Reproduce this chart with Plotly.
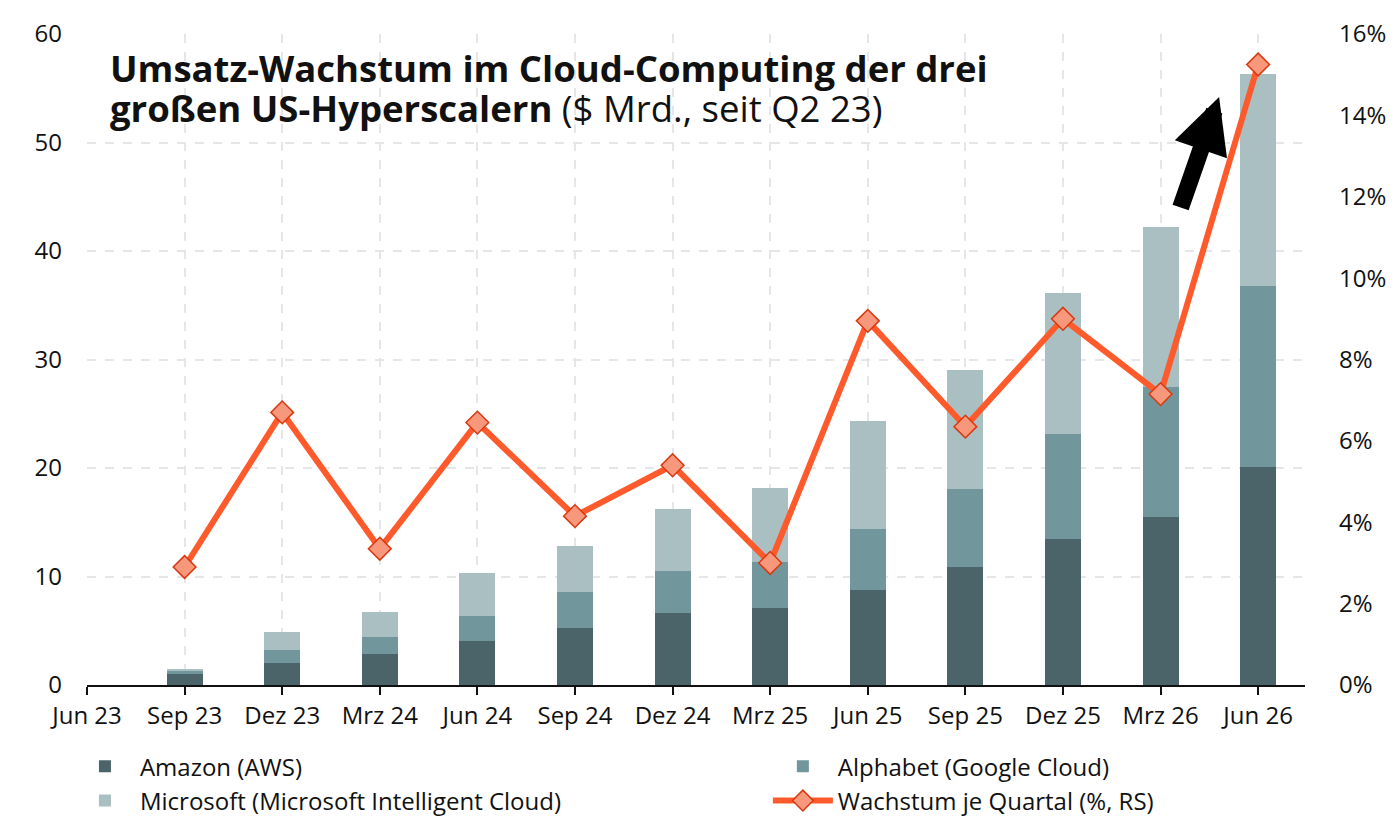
import plotly.graph_objects as go

quarters = ["Jun 23", "Sep 23", "Dez 23", "Mrz 24", "Jun 24", "Sep 24", "Dez 24",
            "Mrz 25", "Jun 25", "Sep 25", "Dez 25", "Mrz 26", "Jun 26"]

# $ Mrd., kumuliert seit Q2 23
amazon = [0, 1.0, 2.0, 2.9, 4.1, 5.3, 6.6, 7.1, 8.8, 10.9, 13.5, 15.5, 20.1]
alphabet = [0, 0.3, 1.2, 1.5, 2.3, 3.3, 3.9, 4.2, 5.6, 7.2, 9.6, 12.0, 16.7]
microsoft = [0, 0.2, 1.7, 2.3, 3.9, 4.2, 5.7, 6.9, 9.9, 10.9, 13.0, 14.7, 19.5]

# Wachstum je Quartal (%), rechte Skala
wachstum = [None, 2.9, 6.7, 3.35, 6.45, 4.15, 5.4, 3.0, 8.95, 6.35, 9.0, 7.15, 15.25]

FONT = "Open Sans"

fig = go.Figure()
fig.add_bar(x=quarters, y=amazon, name="Amazon (AWS)", marker_color="#4b646a",
            marker_line_width=0, width=0.37, legend="legend")
fig.add_bar(x=quarters, y=alphabet, name="Alphabet (Google Cloud)", marker_color="#71979d",
            marker_line_width=0, width=0.37, legend="legend2")
fig.add_bar(x=quarters, y=microsoft, name="Microsoft (Microsoft Intelligent Cloud)",
            marker_color="#a9bfc2", marker_line_width=0, width=0.37, legend="legend")
fig.add_scatter(x=quarters, y=wachstum, name="Wachstum je Quartal (%, RS)", yaxis="y2",
                mode="lines+markers", line=dict(color="#ff5a2b", width=6),
                marker=dict(symbol="diamond", size=17.5, color="#f7977c",
                            line=dict(color="#d9380f", width=1.5)),
                legend="legend2")

leg = dict(orientation="v", yanchor="top", y=-0.091, traceorder="normal",
           font=dict(size=24), itemwidth=60, tracegroupgap=0, bgcolor="rgba(0,0,0,0)")

fig.update_layout(
    barmode="stack",
    width=1400, height=823,
    margin=dict(l=79, r=103, t=26, b=146, autoexpand=False),
    paper_bgcolor="white", plot_bgcolor="white",
    font=dict(family=FONT, size=24, color="#111111"),
    showlegend=True,
    legend=dict(leg, x=-0.014, xanchor="left"),
    legend2=dict(leg, x=0.559, xanchor="left"),
    xaxis=dict(range=[0, 12.48], showgrid=True, gridcolor="#e6e6e6", griddash="dash",
               gridwidth=1.5, showline=True, linecolor="#111111", linewidth=2,
               ticks="outside", ticklen=8, tickwidth=2, tickcolor="#111111",
               tickfont=dict(size=24), zeroline=False),
    yaxis=dict(range=[0, 60], dtick=10, showgrid=True, gridcolor="#e6e6e6",
               griddash="dash", gridwidth=1.5, zeroline=False, showline=False,
               ticks="", ticklabelstandoff=24, tickfont=dict(size=24)),
    yaxis2=dict(range=[0, 16], dtick=2, overlaying="y", side="right", showgrid=False,
                zeroline=False, ticksuffix="%", ticks="", ticklabelstandoff=33,
                tickfont=dict(size=24)),
)

fig.add_annotation(xref="paper", yref="paper", x=0.017, y=0.906, xanchor="left",
                   yanchor="bottom", align="left", showarrow=False,
                   text="<b>Umsatz-Wachstum im Cloud-Computing der drei</b>",
                   font=dict(family=FONT, size=36.5, color="#111111"))
fig.add_annotation(xref="paper", yref="paper", x=0.017, y=0.845, xanchor="left",
                   yanchor="bottom", align="left", showarrow=False,
                   text="<b>großen US-Hyperscalern</b> ($ Mrd., seit Q2 23)",
                   font=dict(family=FONT, size=36.5, color="#111111"))

# Pfeil
fig.add_annotation(xref="x", yref="y2", x=11.6, y=14.45, ax=11.2, ay=11.7,
                   axref="x", ayref="y2", showarrow=True, text="",
                   arrowhead=2, arrowsize=0.65, arrowwidth=17, arrowcolor="#000000")

fig.write_html("out.html")
